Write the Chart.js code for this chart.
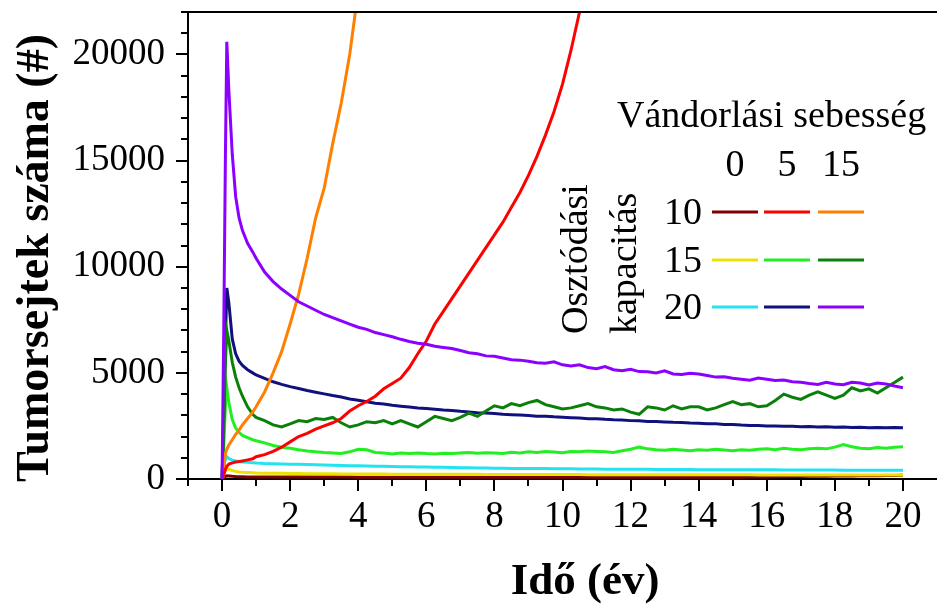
<!DOCTYPE html>
<html>
<head>
<meta charset="utf-8">
<title>Tumorsejtek száma</title>
<script src="https://cdn.jsdelivr.net/npm/chart.js@4.4.1/dist/chart.umd.min.js"></script>
<style>
  html, body { margin: 0; padding: 0; background: #fff; }
  #wrap { width: 937px; height: 607px; }
</style>
</head>
<body>
<div id="wrap"><canvas id="chart" width="937" height="607"></canvas></div>
<script>
// ── Data (time in years, cell counts) ─────────────────
var years = [0, 0.05, 0.1, 0.14, 0.2, 0.3, 0.4, 0.5, 0.6, 0.75, 0.9,
  1, 1.25, 1.5, 1.75, 2, 2.25, 2.5, 2.75, 3, 3.25, 3.5, 3.75,
  4, 4.25, 4.5, 4.75, 5, 5.25, 5.5, 5.75, 6, 6.25, 6.5, 6.75,
  7, 7.25, 7.5, 7.75, 8, 8.25, 8.5, 8.75, 9, 9.25, 9.5, 9.75,
  10, 10.25, 10.5, 10.75, 11, 11.25, 11.5, 11.75, 12, 12.25, 12.5, 12.75,
  13, 13.25, 13.5, 13.75, 14, 14.25, 14.5, 14.75, 15, 15.25, 15.5, 15.75,
  16, 16.25, 16.5, 16.75, 17, 17.25, 17.5, 17.75, 18, 18.25, 18.5, 18.75,
  19, 19.25, 19.5, 19.75, 20];

var speeds = ['0', '5', '15'];          // Vándorlási sebesség
var capacities = ['10', '15', '20'];    // Osztódási kapacitás

var xTickLabels = ['0', '2', '4', '6', '8', '10', '12', '14', '16', '18', '20'];
var yTickLabels = ['0', '5000', '10000', '15000', '20000'];

// capacity 10
var cap10_v0 = [0, 60, 120, 150, 140, 125, 115, 110, 105, 100, 100,
  100, 98, 96, 95, 94, 93, 92, 92, 91, 90, 90, 89,
  88, 88, 87, 87, 86, 86, 85, 85, 85, 84, 84, 84,
  83, 83, 83, 82, 82, 82, 82, 81, 81, 81, 81, 80,
  80, 80, 80, 80, 80, 80, 80, 80, 80, 80, 80, 80,
  80, 80, 80, 80, 80, 80, 82, 84, 85, 88, 90, 95,
  100, 105, 110, 115, 120, 125, 130, 135, 140, 150, 145, 155,
  160, 150, 165, 170, 175];
var cap10_v5 = [0, 200, 450, 600, 700, 760, 800, 820, 850, 900, 950,
  1050, 1150, 1300, 1500, 1750, 2000, 2150, 2350, 2500, 2650, 2850, 3200,
  3450, 3650, 3900, 4250, 4500, 4750, 5250, 5900, 6500, 7300, 7900, 8500,
  9100, 9700, 10300, 10900, 11500, 12100, 12800, 13500, 14300, 15200, 16200, 17300,
  18600, 20200, 22000, 23800];
var cap10_v15 = [0, 600, 1200, 1400, 1600, 1850, 2100, 2300, 2550, 2850, 3150,
  3400, 4100, 5000, 6000, 7300, 8700, 10400, 12300, 13700, 15800, 17700, 20000,
  23000];

// capacity 15
var cap15_v0 = [0, 200, 420, 500, 460, 400, 360, 335, 318, 302, 290,
  282, 276, 270, 265, 260, 256, 252, 248, 245, 242, 240, 238,
  236, 234, 232, 230, 228, 227, 226, 225, 224, 223, 222, 221,
  220, 219, 218, 217, 216, 215, 214, 213, 212, 211, 210, 210,
  209, 208, 207, 206, 205, 205, 204, 203, 202, 202, 201, 200,
  200, 199, 199, 198, 198, 197, 197, 196, 196, 195, 195, 194,
  194, 193, 193, 192, 192, 192, 191, 191, 191, 190, 190, 190,
  190, 189, 189, 189, 188];
var cap15_v5 = [0, 1500, 3500, 4300, 3600, 2800, 2400, 2200, 2050, 1950, 1850,
  1800, 1700, 1580, 1500, 1450, 1380, 1320, 1280, 1250, 1230, 1200, 1280,
  1400, 1380, 1250, 1220, 1180, 1220, 1200, 1230, 1200, 1180, 1210, 1200,
  1230, 1250, 1210, 1240, 1230, 1200, 1260, 1230, 1280, 1250, 1300, 1270,
  1240, 1300, 1280, 1320, 1300, 1280, 1250, 1330, 1400, 1500, 1420, 1380,
  1350, 1400, 1370, 1330, 1380, 1350, 1400, 1370, 1330, 1380, 1360, 1400,
  1420, 1380, 1450, 1400, 1380, 1420, 1450, 1420, 1500, 1620, 1520, 1450,
  1430, 1480, 1450, 1500, 1520];
var cap15_v15 = [0, 2500, 5500, 7000, 6500, 5500, 4800, 4300, 3900, 3400, 3050,
  2900, 2750, 2550, 2450, 2600, 2750, 2700, 2850, 2800, 2900, 2650, 2450,
  2550, 2700, 2650, 2750, 2600, 2750, 2600, 2450, 2700, 2950, 2850, 2750,
  2900, 3100, 2950, 3200, 3450, 3350, 3550, 3450, 3600, 3700, 3500, 3400,
  3300, 3350, 3450, 3550, 3400, 3350, 3250, 3300, 3150, 3050, 3400, 3350,
  3250, 3450, 3300, 3400, 3400, 3250, 3350, 3500, 3650, 3500, 3550, 3400,
  3450, 3700, 4000, 3850, 3750, 3950, 4100, 3950, 3800, 3950, 4300, 4150,
  4250, 4050, 4300, 4550, 4800];

// capacity 20
var cap20_v0 = [0, 500, 950, 1050, 960, 890, 850, 825, 805, 785, 765,
  750, 730, 720, 710, 700, 690, 680, 670, 660, 650, 640, 630,
  620, 610, 600, 595, 590, 580, 575, 565, 560, 555, 550, 540,
  530, 525, 520, 515, 510, 505, 500, 500, 495, 490, 490, 485,
  480, 480, 475, 470, 470, 465, 465, 460, 460, 455, 455, 450,
  450, 450, 445, 445, 440, 440, 440, 435, 435, 435, 430, 430,
  430, 430, 425, 425, 425, 420, 420, 420, 420, 415, 415, 415,
  410, 410, 410, 410, 410];
var cap20_v5 = [0, 3000, 6500, 9000, 8300, 6600, 5900, 5550, 5350, 5150, 5000,
  4900, 4740, 4580, 4460, 4350, 4260, 4170, 4090, 4010, 3930, 3860, 3770,
  3710, 3640, 3570, 3530, 3470, 3430, 3390, 3350, 3320, 3290, 3250, 3230,
  3190, 3160, 3120, 3110, 3090, 3050, 3030, 3010, 2990, 2960, 2960, 2930,
  2910, 2890, 2870, 2840, 2840, 2810, 2790, 2780, 2750, 2740, 2710, 2710,
  2690, 2670, 2660, 2640, 2630, 2600, 2600, 2570, 2570, 2540, 2520, 2520,
  2500, 2500, 2480, 2480, 2460, 2470, 2450, 2460, 2440, 2450, 2430, 2440,
  2420, 2430, 2410, 2430, 2410];
var cap20_v15 = [0, 7000, 15400, 20600, 18300, 15300, 13300, 12300, 11700, 11100, 10700,
  10400, 9750, 9300, 8950, 8650, 8350, 8150, 7950, 7750, 7600, 7450, 7300,
  7150, 7050, 6900, 6800, 6700, 6580, 6480, 6400, 6350, 6250, 6200, 6150,
  6050, 5950, 5900, 5800, 5780, 5700, 5620, 5600, 5550, 5480, 5450, 5520,
  5380, 5320, 5380, 5250, 5200, 5300, 5150, 5100, 5170, 5060, 5050, 5000,
  5100, 4950, 4920, 4980, 4950, 4880, 4800, 4820, 4750, 4700, 4650, 4760,
  4700, 4640, 4660, 4580, 4560, 4500, 4450, 4560, 4480, 4440, 4560, 4520,
  4430, 4520, 4480, 4380, 4300];

// ── Helpers ───────────────────────────────────────────
function toPoints(values) {
  return values.map(function (v, i) { return { x: years[i], y: v }; });
}

function line(label, values, color, row, col) {
  return {
    label: label,
    data: toPoints(values),
    borderColor: color,
    borderWidth: 3,
    pointRadius: 0,
    tension: 0,
    fill: false,
    row: row,
    col: col
  };
}

var serif = "'Liberation Serif', 'Times New Roman', serif";

// no extra room for the (empty) edge labels
function noPad(s) {
  s.paddingTop = 0; s.paddingBottom = 0;
  s.paddingLeft = 0; s.paddingRight = 0;
}

// ── Frame, ticks, titles and legend grid ─────────────
var framePlugin = {
  id: 'frame',
  afterDraw: function (chart) {
    var ctx = chart.ctx, a = chart.chartArea;
    var xs = chart.scales.x, ys = chart.scales.y;
    ctx.save();
    ctx.strokeStyle = '#000';
    ctx.lineWidth = 2;
    ctx.beginPath();
    ctx.moveTo(a.left - 1, a.top);
    ctx.lineTo(a.right, a.top);
    xs.ticks.forEach(function (t) {
      if (t.value > 20) return;
      var len = (t.value >= 0 && t.value % 2 === 0) ? 12 : 7;
      var px = Math.round(xs.getPixelForValue(t.value));
      ctx.moveTo(px, a.bottom);
      ctx.lineTo(px, a.bottom + len);
    });
    ys.ticks.forEach(function (t) {
      var len = (t.value % 5000 === 0) ? 12 : 7;
      var py = Math.round(ys.getPixelForValue(t.value));
      ctx.moveTo(a.left - len, py);
      ctx.lineTo(a.left, py);
    });
    ctx.stroke();

    ctx.fillStyle = '#000';
    // axis titles
    ctx.font = 'bold 45px ' + serif;
    ctx.textAlign = 'center';
    ctx.textBaseline = 'middle';
    ctx.fillText('Idő (év)', 585, 582);
    ctx.save();
    ctx.translate(36, 258);
    ctx.rotate(-Math.PI / 2);
    ctx.font = 'bold 46px ' + serif;
    ctx.fillText('Tumorsejtek száma (#)', 0, 0);
    ctx.restore();

    // legend grid
    ctx.font = '38px ' + serif;
    ctx.textAlign = 'left';
    ctx.fillText('Vándorlási sebesség', 617, 117);
    var colX = [735, 787, 841];
    var rowY = [212, 260, 307];
    ctx.textAlign = 'center';
    speeds.forEach(function (s, i) { ctx.fillText(s, colX[i], 166); });
    ctx.textAlign = 'right';
    capacities.forEach(function (c, i) { ctx.fillText(c, 702, rowY[i] + 2); });

    ctx.save();
    ctx.textAlign = 'left';
    ctx.translate(577, 334);
    ctx.rotate(-Math.PI / 2);
    ctx.fillText('Osztódási', 0, 0);
    ctx.restore();
    ctx.save();
    ctx.textAlign = 'left';
    ctx.translate(626, 334);
    ctx.rotate(-Math.PI / 2);
    ctx.fillText('kapacitás', 0, 0);
    ctx.restore();

    ctx.lineWidth = 3;
    chart.data.datasets.forEach(function (ds) {
      var cx = colX[ds.col], cy = rowY[ds.row];
      ctx.strokeStyle = ds.borderColor;
      ctx.beginPath();
      ctx.moveTo(cx - 23, cy);
      ctx.lineTo(cx + 23, cy);
      ctx.stroke();
    });
    ctx.restore();
  }
};

// ── Chart ─────────────────────────────────────────────
new Chart(document.getElementById('chart'), {
  type: 'line',
  data: {
    datasets: [
      line('20 / 15', cap20_v15, '#8c00ff', 2, 2),
      line('10 / 5', cap10_v5, '#ff0000', 0, 1),
      line('10 / 15', cap10_v15, '#ff8000', 0, 2),
      line('15 / 15', cap15_v15, '#0a800a', 1, 2),
      line('20 / 5', cap20_v5, '#10107e', 2, 1),
      line('15 / 5', cap15_v5, '#22ee22', 1, 1),
      line('20 / 0', cap20_v0, '#22e4f0', 2, 0),
      line('15 / 0', cap15_v0, '#ece200', 1, 0),
      line('10 / 0', cap10_v0, '#800000', 0, 0)
    ]
  },
  options: {
    responsive: false,
    animation: false,
    layout: { padding: { top: 12, right: 0, left: 0, bottom: 0 } },
    plugins: { legend: { display: false }, tooltip: { enabled: false } },
    scales: {
      x: {
        type: 'linear',
        min: -1,
        max: 21,
        afterFit: function (s) { s.height = 128; noPad(s); },
        grid: { drawOnChartArea: false, tickLength: 12, tickColor: 'rgba(0,0,0,0)' },
        border: { color: '#000', width: 2 },
        ticks: {
          stepSize: 1,
          autoSkip: false,
          maxRotation: 0,
          padding: 4,
          color: '#000',
          font: { family: serif, size: 37 },
          callback: function (v) {
            return xTickLabels.indexOf(String(v)) >= 0 ? String(v) : '';
          }
        }
      },
      y: {
        min: 0,
        max: 22000,
        afterFit: function (s) { s.width = 188; noPad(s); },
        grid: { drawOnChartArea: false, tickLength: 12, tickColor: 'rgba(0,0,0,0)' },
        border: { color: '#000', width: 2 },
        ticks: {
          stepSize: 1000,
          autoSkip: false,
          padding: 11,
          color: '#000',
          font: { family: serif, size: 37 },
          callback: function (v) {
            return yTickLabels.indexOf(String(v)) >= 0 ? String(v) : '';
          }
        }
      }
    }
  },
  plugins: [framePlugin]
});
</script>
</body>
</html>
